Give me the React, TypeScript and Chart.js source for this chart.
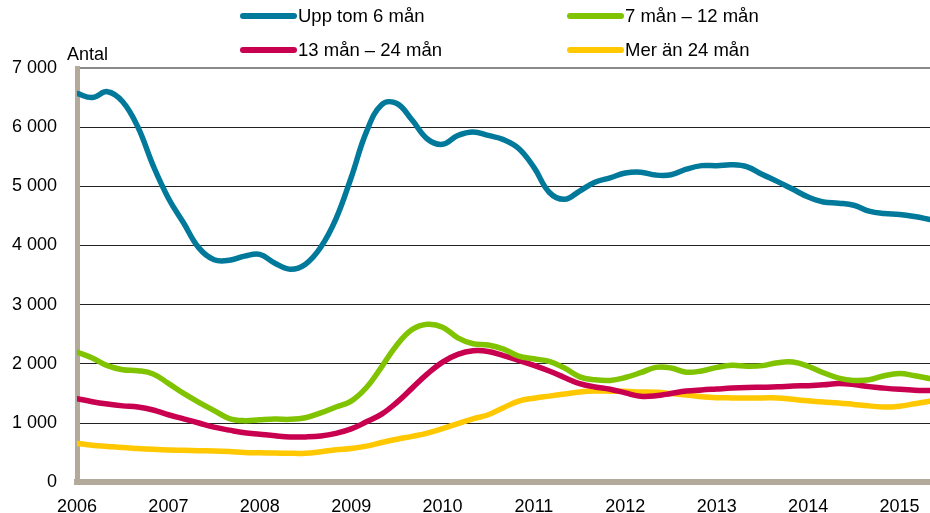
import React, { useEffect, useRef } from "react";
import { Chart, registerables } from "chart.js";

Chart.register(...registerables);

// Bimonthly sample dates (decimal years), Jan 2006 .. May 2015
const months: number[] = Array.from({ length: 57 }, (_, i) => 2006 + i / 6);

const yearTicks: number[] = [2006, 2007, 2008, 2009, 2010, 2011, 2012, 2013, 2014, 2015];
const valueTicks: number[] = [0, 1000, 2000, 3000, 4000, 5000, 6000, 7000];

const upTo6: number[] = [
  6570, 6500, 6600, 6430, 6000, 5350,
  4800, 4380, 3960, 3760, 3750, 3820,
  3850, 3700, 3600, 3685, 3970, 4450,
  5150, 5920, 6380, 6400, 6120, 5800,
  5710, 5860, 5920, 5860, 5790, 5640,
  5320, 4900, 4780, 4920, 5070, 5144,
  5225, 5240, 5190, 5195, 5290, 5350,
  5350, 5365, 5330, 5200, 5080, 4950,
  4820, 4735, 4715, 4680, 4580, 4540,
  4526, 4490, 4440,
];

const m7to12: number[] = [
  2200, 2100, 1970, 1900, 1885, 1830,
  1670, 1500, 1350, 1210, 1075, 1040,
  1055, 1066, 1062, 1090, 1170, 1270,
  1370, 1600, 1950, 2320, 2580, 2670,
  2620, 2440, 2340, 2320, 2250, 2130,
  2085, 2040, 1930, 1780, 1730, 1720,
  1770, 1850, 1940, 1930, 1860, 1880,
  1940, 1975, 1960, 1970, 2020, 2030,
  1960, 1850, 1760, 1720, 1730, 1800,
  1835, 1800, 1750,
];

const m13to24: number[] = [
  1413, 1360, 1320, 1290, 1270, 1220,
  1140, 1070, 1000, 930, 880, 835,
  810, 785, 765, 765, 780, 825,
  900, 1020, 1150, 1350, 1590, 1830,
  2030, 2160, 2220, 2210, 2140, 2060,
  1975, 1880, 1770, 1666, 1610, 1570,
  1510, 1452, 1460, 1500, 1540, 1560,
  1575, 1590, 1600, 1605, 1612, 1625,
  1632, 1645, 1666, 1650, 1615, 1590,
  1570, 1555, 1548,
];

const over24: number[] = [
  656, 625, 605, 585, 570, 555,
  544, 538, 532, 528, 518, 502,
  496, 492, 488, 490, 515, 548,
  570, 610, 670, 725, 775, 830,
  905, 990, 1070, 1140, 1260, 1370,
  1420, 1455, 1490, 1525, 1540, 1538,
  1536, 1526, 1520, 1500, 1475, 1445,
  1428, 1425, 1425, 1425, 1425, 1400,
  1375, 1355, 1340, 1315, 1290, 1270,
  1285, 1325, 1368,
];

const seriesLabels: string[] = ["Upp tom 6 mån", "7 mån – 12 mån", "13 mån – 24 mån", "Mer än 24 mån"];
const seriesColors: string[] = ["#00799b", "#80c300", "#c8004f", "#ffc800"];
const seriesValues: number[][] = [upTo6, m7to12, m13to24, over24];

const FONT = "'Liberation Sans', Arial, sans-serif";

const fmt = (v: number) => String(v).replace(/\B(?=(\d{3})+(?!\d))/g, " ");

const legendPlugin = {
  id: "customLegend",
  afterDraw(chart: any) {
    const ctx = chart.ctx;
    const ds = chart.data.datasets;
    const pos = [
      { x: 240, y: 16 },
      { x: 567, y: 16 },
      { x: 240, y: 50 },
      { x: 567, y: 50 },
    ];
    ctx.save();
    ds.forEach((d: any, i: number) => {
      const p = pos[i];
      ctx.beginPath();
      ctx.lineCap = "round";
      ctx.lineWidth = 6;
      ctx.strokeStyle = d.borderColor;
      ctx.moveTo(p.x + 3, p.y);
      ctx.lineTo(p.x + 54, p.y);
      ctx.stroke();
      ctx.fillStyle = "#000";
      ctx.font = `18.5px ${FONT}`;
      ctx.textBaseline = "middle";
      ctx.textAlign = "left";
      ctx.fillText(d.label, p.x + 58, p.y + 1);
    });
    ctx.font = `18px ${FONT}`;
    ctx.textBaseline = "alphabetic";
    ctx.fillText("Antal", 67, 60);
    ctx.restore();
  },
};

export default function App() {
  const ref = useRef<HTMLCanvasElement | null>(null);
  useEffect(() => {
    if (!ref.current) return;
    const chart = new Chart(ref.current, {
      type: "line",
      data: {
        datasets: seriesValues.map((vals, i) => ({
          label: seriesLabels[i],
          data: vals.map((v, j) => ({ x: months[j], y: v })),
          borderColor: seriesColors[i],
          backgroundColor: seriesColors[i],
          borderWidth: 5.5,
          pointRadius: 0,
          tension: 0.4,
          fill: false,
          borderCapStyle: "round",
        })),
      },
      options: {
        responsive: false,
        animation: false,
        layout: { autoPadding: false, padding: { top: 68, left: 0, right: 0, bottom: 0 } },
        plugins: { legend: { display: false }, tooltip: { enabled: false } },
        scales: {
          x: {
            type: "linear",
            min: 2006,
            max: months[months.length - 1],
            afterBuildTicks: (axis: any) => {
              axis.ticks = yearTicks.map((v) => ({ value: v }));
            },
            afterFit: (axis: any) => {
              axis.height = 30;
              axis.paddingRight = 0;
              axis.paddingLeft = 0;
            },
            grid: { display: false, drawTicks: false },
            border: { display: true, color: "#b4aa9c", width: 6 },
            ticks: {
              color: "#000",
              font: { size: 18, family: FONT },
              padding: 14,
              maxRotation: 0,
              autoSkip: false,
              callback: (v: any) => String(v),
            },
          },
          y: {
            min: 0,
            max: 7000,
            afterBuildTicks: (axis: any) => {
              axis.ticks = valueTicks.map((v) => ({ value: v }));
            },
            afterFit: (axis: any) => {
              axis.width = 77;
            },
            grid: {
              drawTicks: false,
              color: (c: any) => (c.tick && c.tick.value === 7000 ? "#8a8a8a" : "#222"),
              lineWidth: (c: any) => (c.tick && c.tick.value === 7000 ? 2 : 1),
            },
            border: { display: true, color: "#b4aa9c", width: 5 },
            ticks: {
              color: "#000",
              font: { size: 18, family: FONT },
              padding: 20,
              callback: (v: any) => fmt(Number(v)),
            },
          },
        },
      },
      plugins: [legendPlugin],
    });
    return () => chart.destroy();
  }, []);
  return (
    <div style={{ position: "absolute", left: 0, top: 0, width: 930, height: 513, background: "#fff" }}>
      <canvas ref={ref} width={930} height={513} style={{ display: "block" }} />
    </div>
  );
}
